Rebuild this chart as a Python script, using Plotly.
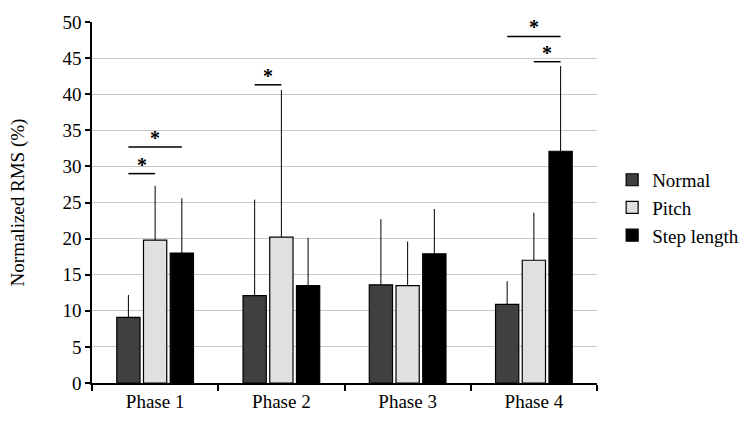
import plotly.graph_objects as go

phases = ["Phase 1", "Phase 2", "Phase 3", "Phase 4"]
series_names = ["Normal", "Pitch", "Step length"]
normal = [9.1, 12.1, 13.6, 10.9]
normal_err = [3.1, 13.3, 9.1, 3.2]
pitch = [19.8, 20.2, 13.5, 17.0]
pitch_err = [7.5, 20.4, 6.1, 6.6]
step = [18.0, 13.5, 17.9, 32.1]
step_err = [7.6, 6.6, 6.2, 11.8]
colors = ["#404040", "#e0e0e0", "#000000"]
y_ticks = [0, 5, 10, 15, 20, 25, 30, 35, 40, 45, 50]

# significance: (phase index, series a, series b, y level)
sig = [
    (0, 0, 1, 29.0),
    (0, 0, 2, 32.7),
    (1, 0, 1, 41.3),
    (3, 0, 2, 48.0),
    (3, 1, 2, 44.5),
]

font_family = "Liberation Serif"
fig = go.Figure()
for name, vals, errs, col in zip(series_names, [normal, pitch, step], [normal_err, pitch_err, step_err], colors):
    fig.add_trace(go.Bar(
        name=name, x=phases, y=vals,
        marker=dict(color=col, line=dict(color="black", width=1.2)),
        error_y=dict(type="data", array=errs, arrayminus=[0] * len(errs), symmetric=False,
                     color="black", thickness=1, width=0),
    ))

bargap = 0.365
groupgap = 0.13
slot = (1 - bargap) / 3
offsets = [-slot, 0, slot]
for p, a, b, yv in sig:
    x0 = p + offsets[a]
    x1 = p + offsets[b]
    fig.add_shape(type="line", xref="x", yref="y", x0=x0, x1=x1, y0=yv, y1=yv,
                  line=dict(color="black", width=1.5))
    fig.add_annotation(x=(x0 + x1) / 2, y=yv, xref="x", yref="y", text="<b>*</b>",
                       showarrow=False, yanchor="bottom", yshift=-4,
                       font=dict(family=font_family, size=20, color="black"))

fig.update_layout(
    width=750, height=430,
    margin=dict(l=92, r=153, t=22, b=47, autoexpand=False),
    paper_bgcolor="white", plot_bgcolor="white",
    barmode="group", bargap=bargap, bargroupgap=groupgap,
    font=dict(family=font_family, size=19, color="black"),
    showlegend=True,
    legend=dict(x=1.03, y=0.485, xanchor="left", yanchor="middle",
                font=dict(family=font_family, size=19, color="black"),
                tracegroupgap=3, itemwidth=30),
    xaxis=dict(type="category", range=[-0.5, 3.5], showline=True, linecolor="black", linewidth=1.5,
               ticks="outside", tickson="boundaries", ticklen=6, tickcolor="black", tickwidth=1.5,
               showgrid=False, tickfont=dict(family=font_family, size=19)),
    yaxis=dict(range=[0, 50], tickvals=y_ticks, showline=True, linecolor="black", linewidth=1.5,
               ticks="outside", ticklen=5, tickcolor="black", tickwidth=1.5,
               showgrid=True, gridcolor="#c8c8c8", gridwidth=1, zeroline=False,
               title=dict(text="Normalized RMS (%)", font=dict(family=font_family, size=19), standoff=33),
               tickfont=dict(family=font_family, size=19)),
)
fig.write_html("out.html")
